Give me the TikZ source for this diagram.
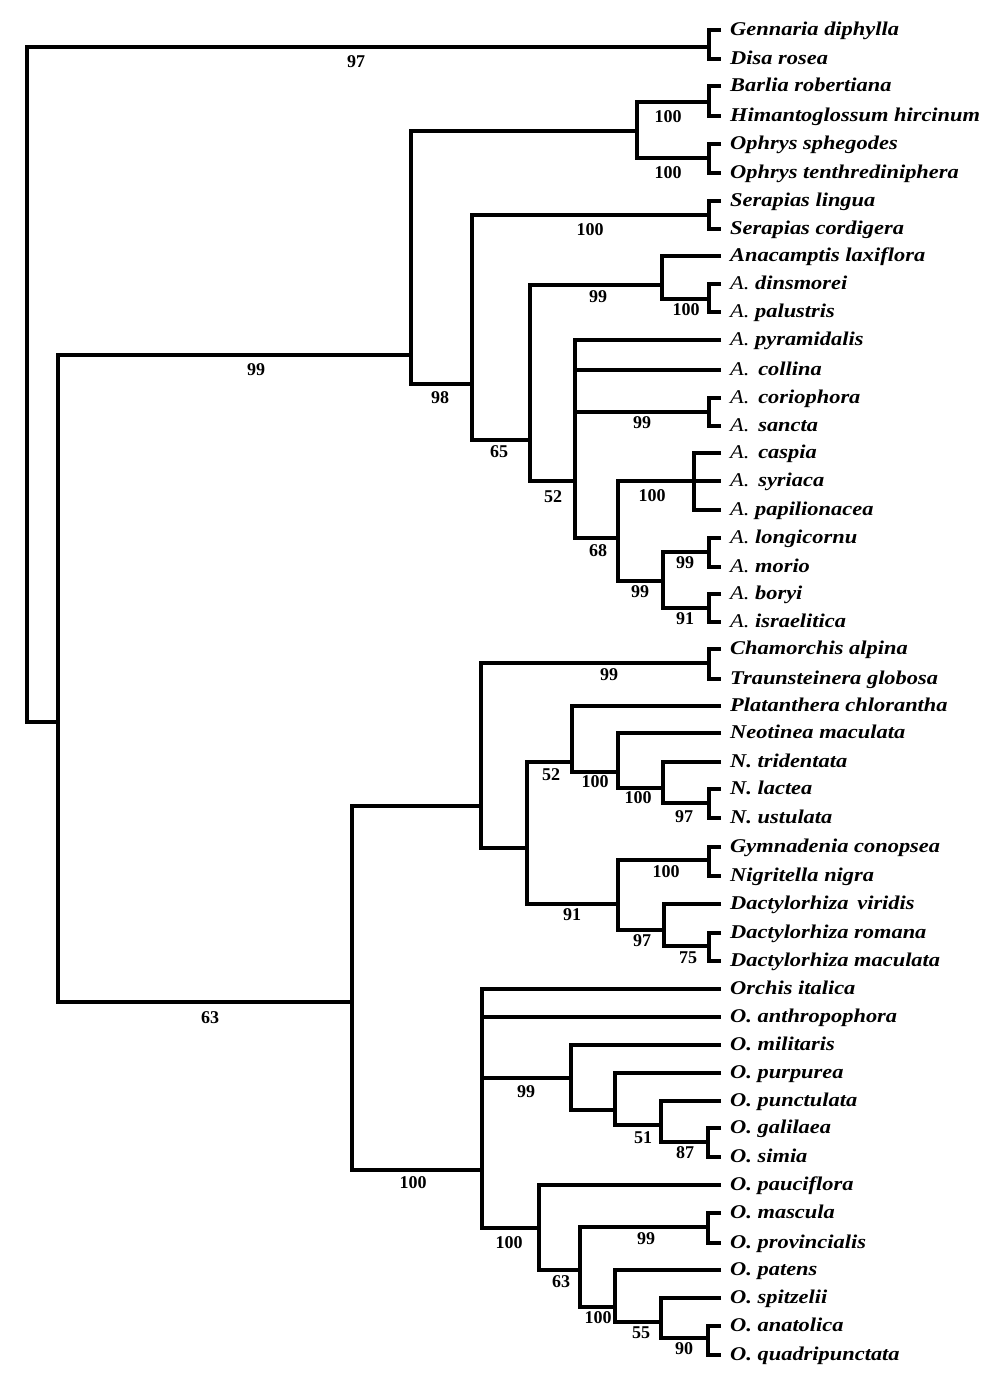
\documentclass[tikz,border=0pt]{standalone}
\usepackage{fontspec}
\setmainfont{Liberation Serif}
\newfontfamily\leaffont[FakeStretch=1.15]{Liberation Serif}
\newcommand\Abr[1]{{\mdseries #1}}
\newcommand\wsp{\hspace{0.45em}}
\begin{document}
\begin{tikzpicture}[x=1pt,y=-1pt,
  br/.style={line width=4.8pt},
  leaf/.style={anchor=west,inner xsep=9pt,inner ysep=0pt,text height=14pt,text depth=4pt,
    font=\leaffont\fontsize{19.5}{20}\selectfont\bfseries\itshape},
  bs/.style={inner sep=0pt,font=\fontsize{18}{18}\selectfont\bfseries}]
\fill[white] (0,0) rectangle (1000,1387);
\useasboundingbox (0,0) rectangle (1000,1387);
% leaves
\node[leaf] (l1) at (721,30) {Gennaria diphylla};
\node[leaf] (l2) at (721,59) {Disa rosea};
\node[leaf] (l3) at (721,86) {Barlia robertiana};
\node[leaf] (l4) at (721,116) {Himantoglossum hircinum};
\node[leaf] (l5) at (721,144) {Ophrys sphegodes};
\node[leaf] (l6) at (721,173) {Ophrys tenthrediniphera};
\node[leaf] (l7) at (721,201) {Serapias lingua};
\node[leaf] (l8) at (721,229) {Serapias cordigera};
\node[leaf] (l9) at (721,256) {Anacamptis laxiflora};
\node[leaf] (l10) at (721,284) {\Abr{A.} dinsmorei};
\node[leaf] (l11) at (721,312) {\Abr{A.} palustris};
\node[leaf] (l12) at (721,340) {\Abr{A.} pyramidalis};
\node[leaf] (l13) at (721,370) {\Abr{A.}\wsp collina};
\node[leaf] (l14) at (721,398) {\Abr{A.}\wsp coriophora};
\node[leaf] (l15) at (721,426) {\Abr{A.}\wsp sancta};
\node[leaf] (l16) at (721,453) {\Abr{A.}\wsp caspia};
\node[leaf] (l17) at (721,481) {\Abr{A.}\wsp syriaca};
\node[leaf] (l18) at (721,510) {\Abr{A.} papilionacea};
\node[leaf] (l19) at (721,538) {\Abr{A.} longicornu};
\node[leaf] (l20) at (721,567) {\Abr{A.} morio};
\node[leaf] (l21) at (721,594) {\Abr{A.} boryi};
\node[leaf] (l22) at (721,622) {\Abr{A.} israelitica};
\node[leaf] (l23) at (721,649) {Chamorchis alpina};
\node[leaf] (l24) at (721,679) {Traunsteinera globosa};
\node[leaf] (l25) at (721,706) {Platanthera chlorantha};
\node[leaf] (l26) at (721,733) {Neotinea maculata};
\node[leaf] (l27) at (721,762) {N. tridentata};
\node[leaf] (l28) at (721,789) {N. lactea};
\node[leaf] (l29) at (721,818) {N. ustulata};
\node[leaf] (l30) at (721,847) {Gymnadenia conopsea};
\node[leaf] (l31) at (721,876) {Nigritella nigra};
\node[leaf] (l32) at (721,904) {Dactylorhiza\wsp viridis};
\node[leaf] (l33) at (721,933) {Dactylorhiza romana};
\node[leaf] (l34) at (721,961) {Dactylorhiza maculata};
\node[leaf] (l35) at (721,989) {Orchis italica};
\node[leaf] (l36) at (721,1017) {O. anthropophora};
\node[leaf] (l37) at (721,1045) {O. militaris};
\node[leaf] (l38) at (721,1073) {O. purpurea};
\node[leaf] (l39) at (721,1101) {O. punctulata};
\node[leaf] (l40) at (721,1128) {O. galilaea};
\node[leaf] (l41) at (721,1157) {O. simia};
\node[leaf] (l42) at (721,1185) {O. pauciflora};
\node[leaf] (l43) at (721,1213) {O. mascula};
\node[leaf] (l44) at (721,1243) {O. provincialis};
\node[leaf] (l45) at (721,1270) {O. patens};
\node[leaf] (l46) at (721,1298) {O. spitzelii};
\node[leaf] (l47) at (721,1326) {O. anatolica};
\node[leaf] (l48) at (721,1355) {O. quadripunctata};
% internal nodes
\coordinate (GD) at (709,47);
\coordinate (root) at (27,722);
\coordinate (n58) at (58,722);
\coordinate (n410) at (411,355);
\coordinate (n637) at (637,131);
\coordinate (BH) at (709,102);
\coordinate (OO) at (709,158);
\coordinate (n472) at (472,384);
\coordinate (SS) at (709,215);
\coordinate (n530) at (530,440);
\coordinate (n662) at (662,285);
\coordinate (DP) at (709,299);
\coordinate (n575) at (575,481);
\coordinate (CS) at (709,412);
\coordinate (n618) at (618,538);
\coordinate (CSP) at (694,481);
\coordinate (n663) at (663,581);
\coordinate (LM) at (709,552);
\coordinate (BI) at (709,608);
\coordinate (n352) at (352,1002);
\coordinate (n481) at (481,806);
\coordinate (CT) at (709,663);
\coordinate (n527) at (527,848);
\coordinate (n572) at (572,762);
\coordinate (n618b) at (618,772);
\coordinate (n663b) at (663,788);
\coordinate (LU) at (709,803);
\coordinate (n618c) at (618,904);
\coordinate (GN) at (709,860);
\coordinate (n664) at (664,930);
\coordinate (RM) at (709,946);
\coordinate (n482) at (482,1170);
\coordinate (n571) at (571,1078);
\coordinate (n615) at (615,1110);
\coordinate (n661) at (661,1125);
\coordinate (GS) at (708,1142);
\coordinate (n539) at (539,1228);
\coordinate (n580) at (580,1270);
\coordinate (MP) at (708,1227);
\coordinate (n615b) at (615,1307);
\coordinate (n661b) at (661,1322);
\coordinate (AQ) at (708,1338);
% branches
\draw[br] (GD) -| (root) -- (n58);
\draw[br] (l1.west) -| (GD |- l2.west) -- (l2.west);
\draw[br] (n410) -| (n58 |- n352) -- (n352);
\draw[br] (n637) -| (n410 |- n472) -- (n472);
\draw[br] (BH) -| (n637 |- OO) -- (OO);
\draw[br] (l3.west) -| (BH |- l4.west) -- (l4.west);
\draw[br] (l5.west) -| (OO |- l6.west) -- (l6.west);
\draw[br] (SS) -| (n472 |- n530) -- (n530);
\draw[br] (l7.west) -| (SS |- l8.west) -- (l8.west);
\draw[br] (n662) -| (n530 |- n575) -- (n575);
\draw[br] (l9.west) -| (n662 |- DP) -- (DP);
\draw[br] (l10.west) -| (DP |- l11.west) -- (l11.west);
\draw[br] (l12.west) -| (n575 |- n618) -- (n618);
\draw[br] (n575 |- l13.west) -- (l13.west);
\draw[br] (n575 |- CS) -- (CS);
\draw[br] (l14.west) -| (CS |- l15.west) -- (l15.west);
\draw[br] (CSP) -| (n618 |- n663) -- (n663);
\draw[br] (l16.west) -| (CSP |- l18.west) -- (l18.west);
\draw[br] (CSP) -- (l17.west);
\draw[br] (LM) -| (n663 |- BI) -- (BI);
\draw[br] (l19.west) -| (LM |- l20.west) -- (l20.west);
\draw[br] (l21.west) -| (BI |- l22.west) -- (l22.west);
\draw[br] (n481) -| (n352 |- n482) -- (n482);
\draw[br] (CT) -| (n481 |- n527) -- (n527);
\draw[br] (l23.west) -| (CT |- l24.west) -- (l24.west);
\draw[br] (n572) -| (n527 |- n618c) -- (n618c);
\draw[br] (l25.west) -| (n572 |- n618b) -- (n618b);
\draw[br] (l26.west) -| (n618b |- n663b) -- (n663b);
\draw[br] (l27.west) -| (n663b |- LU) -- (LU);
\draw[br] (l28.west) -| (LU |- l29.west) -- (l29.west);
\draw[br] (GN) -| (n618c |- n664) -- (n664);
\draw[br] (l30.west) -| (GN |- l31.west) -- (l31.west);
\draw[br] (l32.west) -| (n664 |- RM) -- (RM);
\draw[br] (l33.west) -| (RM |- l34.west) -- (l34.west);
\draw[br] (l35.west) -| (n482 |- n539) -- (n539);
\draw[br] (n482 |- l36.west) -- (l36.west);
\draw[br] (n482 |- n571) -- (n571);
\draw[br] (l37.west) -| (n571 |- n615) -- (n615);
\draw[br] (l38.west) -| (n615 |- n661) -- (n661);
\draw[br] (l39.west) -| (n661 |- GS) -- (GS);
\draw[br] (l40.west) -| (GS |- l41.west) -- (l41.west);
\draw[br] (l42.west) -| (n539 |- n580) -- (n580);
\draw[br] (MP) -| (n580 |- n615b) -- (n615b);
\draw[br] (l43.west) -| (MP |- l44.west) -- (l44.west);
\draw[br] (l45.west) -| (n615b |- n661b) -- (n661b);
\draw[br] (l46.west) -| (n661b |- AQ) -- (AQ);
\draw[br] (l47.west) -| (AQ |- l48.west) -- (l48.west);
% support values
\node[bs] (b1) at (356,62) {97};
\node[bs] (b2) at (256,370) {99};
\node[bs] (b3) at (668,117) {100};
\node[bs] (b4) at (668,173) {100};
\node[bs] (b5) at (440,398) {98};
\node[bs] (b6) at (590,230) {100};
\node[bs] (b7) at (499,452) {65};
\node[bs] (b8) at (598,297) {99};
\node[bs] (b9) at (686,310) {100};
\node[bs] (b10) at (553,497) {52};
\node[bs] (b11) at (642,423) {99};
\node[bs] (b12) at (598,551) {68};
\node[bs] (b13) at (652,496) {100};
\node[bs] (b14) at (640,592) {99};
\node[bs] (b15) at (685,563) {99};
\node[bs] (b16) at (685,619) {91};
\node[bs] (b17) at (210,1018) {63};
\node[bs] (b18) at (609,675) {99};
\node[bs] (b19) at (551,775) {52};
\node[bs] (b20) at (595,782) {100};
\node[bs] (b21) at (638,798) {100};
\node[bs] (b22) at (684,817) {97};
\node[bs] (b23) at (572,915) {91};
\node[bs] (b24) at (666,872) {100};
\node[bs] (b25) at (642,941) {97};
\node[bs] (b26) at (688,958) {75};
\node[bs] (b27) at (413,1183) {100};
\node[bs] (b28) at (526,1092) {99};
\node[bs] (b29) at (643,1138) {51};
\node[bs] (b30) at (685,1153) {87};
\node[bs] (b31) at (509,1243) {100};
\node[bs] (b32) at (561,1282) {63};
\node[bs] (b33) at (646,1239) {99};
\node[bs] (b34) at (598,1318) {100};
\node[bs] (b35) at (641,1333) {55};
\node[bs] (b36) at (684,1349) {90};
\end{tikzpicture}
\end{document}
